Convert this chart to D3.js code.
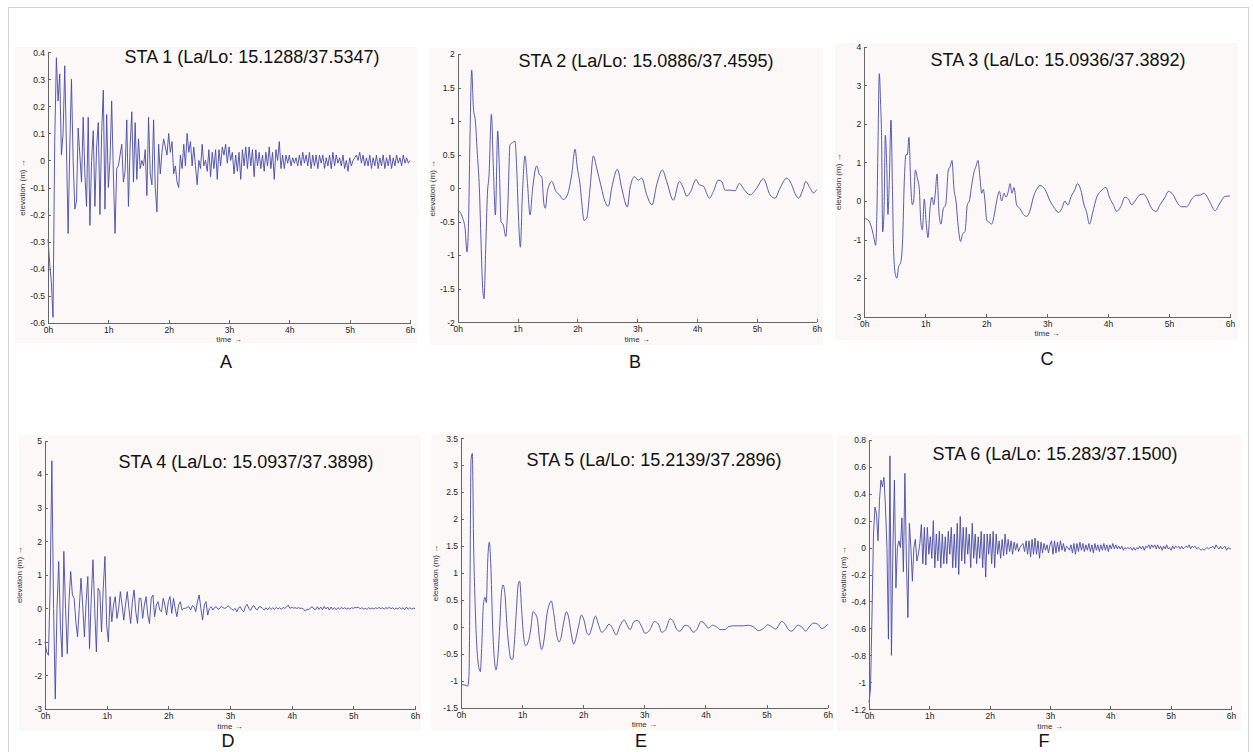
<!DOCTYPE html>
<html>
<head>
<meta charset="utf-8">
<script src="https://cdn.jsdelivr.net/npm/d3@7"></script>
<style>
  body { margin: 0; background: #fff; }
  svg text { font-family: Arial, "Liberation Sans", Helvetica, sans-serif; }
  .axis path, .axis line { stroke: #666; shape-rendering: crispEdges; }
  .axis text { fill: #222; font-size: 8.5px; }
  .wave { fill: none; stroke: #464aa9; stroke-width: 0.9; stroke-linejoin: round; }
  .panel-bg { fill: #fcf8f7; }
  .title { font-size: 18px; fill: #111; }
  .letter { font-size: 18px; fill: #111; }
  .ylab, .xlab { font-size: 8px; fill: #333; }
</style>
</head>
<body>
<svg id="fig" width="1253" height="752"></svg>
<script>
// ---- data ----
const stationTitles = [
  'STA 1 (La/Lo: 15.1288/37.5347)',
  'STA 2 (La/Lo: 15.0886/37.4595)',
  'STA 3 (La/Lo: 15.0936/37.3892)',
  'STA 4 (La/Lo: 15.0937/37.3898)',
  'STA 5 (La/Lo: 15.2139/37.2896)',
  'STA 6 (La/Lo: 15.283/37.1500)'
];
const panelLetters = ['A', 'B', 'C', 'D', 'E', 'F'];
const hourTicks = [0, 1, 2, 3, 4, 5, 6];

const sta1Ticks = [0.4, 0.3, 0.2, 0.1, 0, -0.1, -0.2, -0.3, -0.4, -0.5, -0.6];
const sta2Ticks = [2, 1.5, 1, 0.5, 0, -0.5, -1, -1.5, -2];
const sta3Ticks = [4, 3, 2, 1, 0, -1, -2, -3];
const sta4Ticks = [5, 4, 3, 2, 1, 0, -1, -2, -3];
const sta5Ticks = [3.5, 3, 2.5, 2, 1.5, 1, 0.5, 0, -0.5, -1, -1.5];
const sta6Ticks = [0.8, 0.6, 0.4, 0.2, 0, -0.2, -0.4, -0.6, -0.8, -1, -1.2];

// STA 1: evenly sampled over the 6 h record (m)
const sta1Elev = [
  -0.29,-0.38,-0.45,-0.58,0.07,0.38,0.22,0.32,0.02,0.1,0.35,0.05,
  -0.27,0.05,0.30,0.0,-0.18,-0.15,0.12,0.02,-0.08,0.16,-0.05,-0.17,
  0.16,-0.24,0.0,0.11,-0.17,0.05,0.14,-0.2,0.1,0.26,-0.18,0.17,
  -0.1,0.0,0.22,-0.05,-0.27,-0.03,-0.02,0.02,0.06,-0.08,-0.04,0.15,
  -0.17,0.05,0.18,-0.08,0.14,-0.07,0.08,-0.03,0.0,-0.02,0.04,-0.13,
  0.16,-0.05,-0.09,0.15,-0.1,-0.19,0.06,-0.05,0.03,0.08,0.05,0.02,
  0.1,0.03,0.07,-0.05,-0.02,-0.08,-0.1,0.02,-0.03,0.06,-0.02,0.1,
  0.03,0.07,-0.02,0.05,-0.02,-0.09,0.0,-0.03,0.06,-0.02,0.0,-0.04,
  0.04,-0.06,0.03,-0.03,0.04,-0.07,0.04,-0.02,0.05,0.02,0.06,-0.01,
  0.05,0.0,0.03,-0.05,0.02,-0.04,0.03,-0.07,0.04,-0.02,0.05,-0.03,
  0.05,-0.02,0.04,-0.06,0.04,-0.02,0.03,-0.03,0.02,-0.04,0.03,-0.02,
  0.05,-0.03,0.03,-0.07,0.04,0.0,0.07,-0.03,0.02,-0.03,0.02,-0.01,
  0.02,-0.02,0.01,-0.01,0.01,-0.02,0.02,-0.02,0.03,-0.01,0.02,-0.02,
  0.03,-0.03,0.02,-0.02,0.02,-0.03,0.02,-0.01,0.02,-0.03,0.01,-0.02,
  0.02,-0.03,0.03,-0.02,0.02,-0.01,0.01,-0.02,0.02,-0.03,0.0,-0.04,
  0.01,-0.02,0.0,0.01,0.02,0.0,0.03,-0.01,0.02,-0.02,0.01,-0.02,
  0.02,-0.03,0.01,-0.02,0.02,-0.03,0.01,-0.02,0.02,-0.03,0.01,-0.02,
  0.02,-0.03,0.01,-0.02,0.02,-0.01,0.01,-0.02,0.02,-0.01,0.01,-0.01,
  0.0
];

// STA 2: turning points (hours, m)
const sta2Time = [
  0,0.039,0.084,0.123,0.156,0.184,0.206,0.234,0.262,0.295,
  0.329,0.362,0.39,0.418,0.44,0.468,0.496,0.524,0.563,0.596,
  0.63,0.669,0.696,0.724,0.763,0.802,0.836,0.875,0.919,0.958,
  0.986,1.019,1.047,1.081,1.125,1.164,1.209,1.253,1.32,1.365,
  1.404,1.443,1.465,1.499,1.571,1.643,1.699,1.766,1.833,1.905,
  1.961,2.0,2.045,2.072,2.111,2.156,2.212,2.267,2.323,2.39,
  2.462,2.518,2.574,2.669,2.741,2.836,2.88,2.953,3.019,3.075,
  3.159,3.248,3.326,3.421,3.493,3.604,3.705,3.772,3.827,3.894,
  3.983,4.039,4.106,4.206,4.273,4.357,4.412,4.468,4.552,4.635,
  4.708,4.786,4.886,4.997,5.109,5.22,5.304,5.387,5.499,5.582,
  5.638,5.694,5.777,5.816,5.889,5.944,6.0
];
const sta2Elev = [
  -0.33,-0.36,-0.45,-0.6,-0.95,-0.4,0.8,1.76,1.2,1.0,
  0.5,0.0,-0.8,-1.5,-1.65,-0.9,-0.1,0.2,1.1,0.3,
  -0.4,0.85,0.3,-0.5,-0.55,-0.72,-0.3,0.65,0.68,0.7,
  0.3,-0.5,-0.88,-0.1,0.48,0.1,-0.4,0.0,0.33,0.2,
  0.17,-0.25,-0.3,-0.05,0.1,-0.05,-0.1,-0.17,-0.1,0.2,
  0.58,0.3,0.05,-0.2,-0.48,-0.45,0.0,0.48,0.3,0.05,
  -0.2,-0.27,0.0,0.28,0.0,-0.28,0.0,0.17,0.12,0.15,
  -0.1,-0.25,0.05,0.27,0.1,-0.18,0.1,0.0,-0.12,-0.05,
  0.13,0.05,0.03,-0.15,-0.05,0.12,0.1,-0.03,-0.03,-0.04,
  0.07,-0.02,-0.1,0.0,0.14,-0.1,-0.15,0.0,0.15,0.05,
  -0.08,-0.15,0.0,0.1,0.0,-0.07,-0.02
];

// STA 3: turning points (hours, m)
const sta3Time = [
  0,0.066,0.12,0.164,0.186,0.208,0.224,0.246,0.268,0.284,
  0.301,0.323,0.345,0.367,0.388,0.41,0.438,0.46,0.481,0.509,
  0.536,0.563,0.596,0.629,0.656,0.684,0.706,0.733,0.76,0.788,
  0.81,0.837,0.87,0.903,0.925,0.952,0.985,1.012,1.045,1.078,
  1.111,1.138,1.165,1.193,1.225,1.258,1.296,1.335,1.379,1.411,
  1.439,1.472,1.504,1.543,1.581,1.614,1.652,1.69,1.723,1.761,
  1.8,1.833,1.865,1.898,1.926,1.953,1.98,2.008,2.046,2.09,
  2.128,2.172,2.216,2.254,2.292,2.325,2.363,2.391,2.423,2.456,
  2.5,2.555,2.609,2.664,2.719,2.774,2.828,2.883,2.965,3.047,
  3.129,3.184,3.239,3.293,3.337,3.403,3.457,3.496,3.55,3.605,
  3.649,3.693,3.747,3.813,3.878,3.966,4.021,4.086,4.141,4.207,
  4.278,4.333,4.387,4.442,4.513,4.579,4.644,4.699,4.787,4.852,
  4.934,4.989,5.071,5.137,5.208,5.29,5.372,5.454,5.509,5.574,
  5.662,5.755,5.837,5.919,6.0
];
const sta3Elev = [
  -0.45,-0.5,-0.7,-1.0,-1.15,-0.2,1.4,3.3,2.5,1.6,
  -0.8,-0.3,1.7,1.0,-0.35,0.5,2.1,0.5,-1.3,-1.9,
  -2.0,-1.7,-1.6,-1.0,0.5,1.2,1.2,1.65,0.5,-0.1,
  0.0,0.8,0.6,0.3,-0.5,-0.75,0.05,-0.5,-0.95,-0.2,
  0.1,-0.1,0.2,0.7,-0.3,-0.6,-0.2,-0.1,0.8,0.9,
  1.05,0.3,0.0,-0.7,-1.05,-0.85,-0.8,-0.1,0.0,0.4,
  0.75,0.9,1.05,0.6,0.2,0.3,0.0,-0.5,-0.55,-0.6,
  -0.4,0.0,0.25,0.0,0.2,0.1,0.25,0.45,0.2,0.35,
  -0.1,-0.2,-0.35,-0.4,-0.25,0.1,0.3,0.4,0.3,0.0,
  -0.2,-0.3,-0.2,0.0,-0.1,0.15,0.3,0.45,0.3,-0.1,
  -0.3,-0.6,-0.3,0.1,0.25,0.35,0.1,-0.1,-0.27,-0.15,
  0.1,0.05,-0.1,0.0,0.15,0.18,0.05,-0.15,-0.27,-0.1,
  0.1,0.25,0.15,-0.05,-0.15,-0.15,0.05,0.15,0.15,0.2,
  0.0,-0.25,-0.05,0.12,0.13
];

// STA 4: evenly sampled over the 6 h record (m)
const sta4Elev = [
  -1.0,-1.3,-1.4,0.6,4.4,0.0,-2.7,0.0,1.4,-0.5,-1.45,1.7,
  0.0,-1.35,0.2,1.1,0.4,0.3,-0.4,-0.85,0.0,0.9,0.1,-0.85,
  0.2,0.95,-1.2,0.3,1.45,0.0,-1.3,0.6,0.5,-0.7,0.6,1.55,
  -0.5,-1.0,0.35,-0.4,0.1,0.35,-0.3,0.0,0.5,0.1,-0.35,0.1,
  0.5,0.0,-0.45,0.2,0.55,-0.1,-0.45,0.3,0.3,-0.3,0.1,0.35,
  -0.2,-0.45,0.3,0.4,-0.25,0.1,0.2,-0.05,-0.1,0.3,0.1,-0.2,
  0.2,0.35,-0.15,0.3,0.0,-0.25,0.1,0.2,-0.05,0.0,0.0,0.03,
  0.05,-0.05,0.08,0.05,-0.1,0.2,0.4,0.0,-0.35,0.1,0.2,-0.2,
  0.0,0.05,-0.05,0.03,0.05,-0.03,0.0,0.06,0.02,0.0,0.03,0.08,
  0.02,-0.02,-0.05,0.0,-0.1,0.02,0.05,-0.05,-0.1,0.05,0.12,0.0,
  -0.06,0.05,0.08,-0.02,-0.04,0.05,0.04,0.0,-0.05,0.02,-0.04,0.03,
  -0.03,0.02,-0.03,0.03,-0.02,0.02,-0.03,0.03,0.0,0.04,0.1,0.0,
  0.03,0.01,0.02,0.0,0.02,0.0,0.01,-0.03,-0.08,-0.02,-0.04,0.02,
  0.05,-0.02,-0.04,0.05,-0.03,0.04,-0.04,0.06,-0.02,0.04,-0.05,0.04,
  -0.03,0.02,-0.04,0.02,-0.02,0.03,-0.01,0.02,-0.02,0.01,-0.02,0.02,
  0.0,0.03,0.02,0.03,-0.01,0.02,-0.02,0.0,-0.03,0.02,-0.01,0.01,
  -0.02,0.02,-0.01,0.03,-0.01,0.02,-0.02,0.02,0.0,0.03,-0.01,0.02,
  -0.03,0.01,-0.02,0.03,-0.02,0.02,-0.04,0.04,-0.03,0.02,-0.02,0.01,
  -0.01
];

// STA 5: turning points (hours, m)
const sta5Time = [
  0,0.065,0.109,0.131,0.147,0.164,0.185,0.207,0.229,0.256,
  0.284,0.316,0.338,0.366,0.393,0.415,0.436,0.464,0.486,0.518,
  0.546,0.573,0.6,0.633,0.66,0.687,0.72,0.753,0.786,0.818,
  0.846,0.873,0.906,0.938,0.96,0.993,1.026,1.058,1.091,1.118,
  1.146,1.178,1.211,1.249,1.282,1.32,1.364,1.402,1.44,1.478,
  1.517,1.566,1.604,1.637,1.675,1.724,1.757,1.8,1.844,1.893,
  1.931,1.969,2.019,2.057,2.095,2.139,2.199,2.248,2.302,2.357,
  2.422,2.477,2.537,2.602,2.668,2.711,2.766,2.831,2.891,2.957,
  3.011,3.093,3.164,3.23,3.284,3.35,3.421,3.475,3.53,3.584,
  3.666,3.737,3.803,3.857,3.928,3.993,4.048,4.113,4.184,4.239,
  4.321,4.375,4.457,4.539,4.621,4.703,4.784,4.866,4.948,5.019,
  5.085,5.15,5.248,5.303,5.357,5.412,5.51,5.576,5.641,5.696,
  5.767,5.837,5.903,6.0
];
const sta5Elev = [
  -1.07,-1.08,-1.1,-0.9,0.8,3.1,3.22,1.5,0.5,-0.3,
  -0.7,-0.83,-0.4,0.4,0.55,0.45,1.2,1.57,1.2,0.0,
  -0.6,-0.8,-0.6,0.0,0.6,0.78,0.6,0.0,-0.4,-0.6,
  -0.6,-0.3,0.3,0.8,0.85,0.3,-0.2,-0.35,-0.3,-0.2,
  0.0,0.28,0.25,0.15,-0.2,-0.42,-0.2,0.2,0.4,0.48,
  0.25,-0.15,-0.28,-0.2,0.05,0.28,0.2,-0.1,-0.32,-0.15,
  0.05,0.22,0.1,-0.1,-0.15,-0.02,0.2,0.05,-0.1,-0.05,
  0.05,-0.02,-0.15,0.02,0.13,0.05,-0.05,0.1,0.12,0.0,
  -0.12,-0.05,0.1,0.05,-0.1,-0.05,0.15,0.1,-0.05,-0.08,
  0.03,0.0,-0.1,-0.05,0.1,0.05,-0.02,0.03,0.0,-0.05,
  -0.05,0.0,0.02,0.02,0.02,0.03,0.0,-0.07,-0.03,0.04,
  0.0,-0.04,0.1,0.05,-0.05,-0.08,0.03,0.0,-0.08,0.0,
  0.07,0.05,-0.03,0.05
];

// STA 6: evenly sampled over the 6 h record (m)
const sta6Elev = [
  -1.15,-1.05,-0.5,0.1,0.3,0.25,0.05,0.35,0.5,0.45,0.52,0.3,
  0.0,-0.68,0.68,-0.8,0.0,0.5,-0.3,0.0,0.05,0.0,0.22,-0.18,
  0.55,-0.1,-0.52,0.18,0.0,-0.25,0.0,0.06,-0.1,-0.05,0.03,0.17,
  -0.12,0.15,-0.13,0.15,-0.05,0.08,-0.08,0.2,-0.15,0.1,
  -0.1,0.12,-0.15,0.1,-0.12,0.08,-0.12,0.12,-0.05,0.15,
  -0.15,0.1,-0.15,0.18,-0.2,0.23,-0.1,0.15,-0.12,0.15,
  -0.05,0.1,-0.15,0.18,-0.08,0.1,-0.12,0.08,-0.08,0.12,
  -0.15,0.1,-0.22,0.1,-0.05,0.1,-0.12,0.12,-0.15,0.1,
  -0.05,0.05,-0.08,0.06,-0.06,0.1,-0.05,0.06,-0.03,0.05,
  -0.05,0.04,-0.02,0.03,-0.03,0.0,0.02,0.03,-0.03,0.05,
  -0.05,0.05,-0.07,0.06,-0.05,0.07,-0.05,0.05,-0.08,0.04,
  -0.04,0.03,-0.02,0.02,-0.04,0.02,0.05,-0.05,0.05,-0.04,
  0.04,-0.03,0.05,-0.02,0.03,-0.03,0.01,0.0,-0.02,0.02,
  -0.04,0.03,-0.05,0.03,-0.03,0.04,-0.02,0.03,-0.03,0.02,
  -0.02,0.03,-0.03,0.02,-0.04,0.03,-0.02,0.02,-0.03,0.02,
  -0.02,0.03,-0.02,0.02,-0.03,0.02,-0.01,0.03,-0.01,0.02,
  -0.01,0.01,-0.01,0.01,-0.02,0.0,-0.01,0.0,-0.01,0.0,
  -0.02,0.0,-0.02,0.0,-0.01,0.01,-0.01,0.01,-0.02,0.01,
  0.0,0.02,-0.01,0.02,0.0,0.02,-0.01,0.02,-0.01,0.01,
  -0.02,0.01,-0.01,0.02,-0.01,0.0,-0.02,0.01,-0.01,0.01,
  0.0,0.01,-0.01,0.01,-0.01,0.0,0.01,0.0,0.02,-0.01,
  0.01,0.0,0.01,-0.01,0.0,-0.01,-0.02,-0.01,-0.02,-0.01,
  0.0,-0.01,0.0,0.0,0.01,-0.01,0.02,0.0,-0.01,0.01,
  -0.01,0.0,0.01,-0.02,0.0,-0.01,-0.01
];

/** Class drawing one station sub-plot. */
class StationPanel {
    /**
     * @param svg   parent selection
     * @param box   where the plot sits on the page (axes, background, labels)
     */
    constructor(svg, box) {
        this.svg = svg;
        this.box = box;
        this.x = d3.scaleLinear().domain([0, 6]).range([box.x0, box.x1]);
    }

    /**
     * Draws background, axes, title, letter and the record itself
     */
    draw(title, letter, ticks, time, elev, curve) {
        var b = this.box, x = this.x;
        var y = d3.scaleLinear().domain([d3.min(ticks), d3.max(ticks)]).range([b.y1, b.y0]);
        var g = this.svg.append('g');

        g.append('rect').attr('class', 'panel-bg')
            .attr('x', b.bg[0]).attr('y', b.bg[1])
            .attr('width', b.bg[2] - b.bg[0]).attr('height', b.bg[3] - b.bg[1]);

        // evenly sampled records get their hours from their position in the array
        var pts = elev.map(function(v, i) {
            var t = time ? time[i] : i * 6 / (elev.length - 1);
            return [t, v];
        });
        var line = d3.line().x(function(d) { return x(d[0]); })
            .y(function(d) { return y(d[1]); }).curve(curve);
        g.append('path').datum(pts).attr('class', 'wave').attr('d', line);

        var fmt = function(d) { return String(Math.round(d * 10) / 10); };
        g.append('g').attr('class', 'axis').attr('transform', 'translate(' + b.x0 + ',0)')
            .call(d3.axisLeft(y).tickValues(ticks).tickFormat(fmt)
                .tickSize(-3).tickSizeOuter(0).tickPadding(3));
        g.append('g').attr('class', 'axis').attr('transform', 'translate(0,' + b.y1 + ')')
            .call(d3.axisBottom(x).tickValues(hourTicks).tickFormat(function(d) { return d + 'h'; })
                .tickSize(-3).tickSizeOuter(0).tickPadding(4));
        g.selectAll('.axis text').attr('font-family', null);
        g.selectAll('.axis .domain').attr('stroke', '#666');

        g.append('text').attr('class', 'xlab').attr('text-anchor', 'middle')
            .attr('x', (b.x0 + b.x1) / 2).attr('y', b.y1 + 19.5).text('time \u2192');
        g.append('text').attr('class', 'ylab').attr('text-anchor', 'middle')
            .attr('transform', 'translate(' + (b.x0 - 23) + ',' + ((b.y0 + b.y1) / 2) + ') rotate(-90)')
            .text('elevation (m) \u2192');

        g.append('text').attr('class', 'title').attr('text-anchor', 'middle')
            .attr('x', b.tx).attr('y', b.ty).text(title);
        g.append('text').attr('class', 'letter').attr('text-anchor', 'middle')
            .attr('x', b.lx).attr('y', b.ly).text(letter);
    }
}

var svg = d3.select('#fig');
// thin frame round the whole figure
svg.append('rect').attr('x', 8.5).attr('y', 7.5).attr('width', 1240).attr('height', 770)
    .attr('fill', 'none').attr('stroke', '#d0d0d0');

var boxes = [
    {x0: 48, x1: 410, y0: 52.3, y1: 322.7, bg: [15, 47, 417, 343], tx: 252, ty: 63, lx: 226, ly: 368},
    {x0: 457.7, x1: 816.7, y0: 54, y1: 322.3, bg: [430, 48, 823, 345], tx: 646, ty: 67, lx: 635, ly: 368},
    {x0: 864.3, x1: 1230, y0: 46.7, y1: 316.7, bg: [835, 43, 1238, 340], tx: 1058, ty: 66, lx: 1047, ly: 365},
    {x0: 45, x1: 415, y0: 440.7, y1: 709, bg: [19, 435, 421, 731], tx: 246, ty: 468, lx: 228, ly: 747},
    {x0: 461, x1: 827.7, y0: 438.3, y1: 707.7, bg: [431, 434, 833, 730], tx: 654, ty: 466, lx: 641, ly: 747},
    {x0: 869, x1: 1231, y0: 439.7, y1: 709.3, bg: [837, 435, 1241, 731], tx: 1055, ty: 460, lx: 1044, ly: 747}
];
var ticks = [sta1Ticks, sta2Ticks, sta3Ticks, sta4Ticks, sta5Ticks, sta6Ticks];
var times = [null, sta2Time, sta3Time, null, sta5Time, null];
var elevs = [sta1Elev, sta2Elev, sta3Elev, sta4Elev, sta5Elev, sta6Elev];
var curves = [d3.curveLinear, d3.curveMonotoneX, d3.curveMonotoneX, d3.curveLinear, d3.curveMonotoneX, d3.curveLinear];

for (var i = 0; i < 6; i++) {
    new StationPanel(svg, boxes[i]).draw(stationTitles[i], panelLetters[i], ticks[i], times[i], elevs[i], curves[i]);
}
</script>
</body>
</html>
